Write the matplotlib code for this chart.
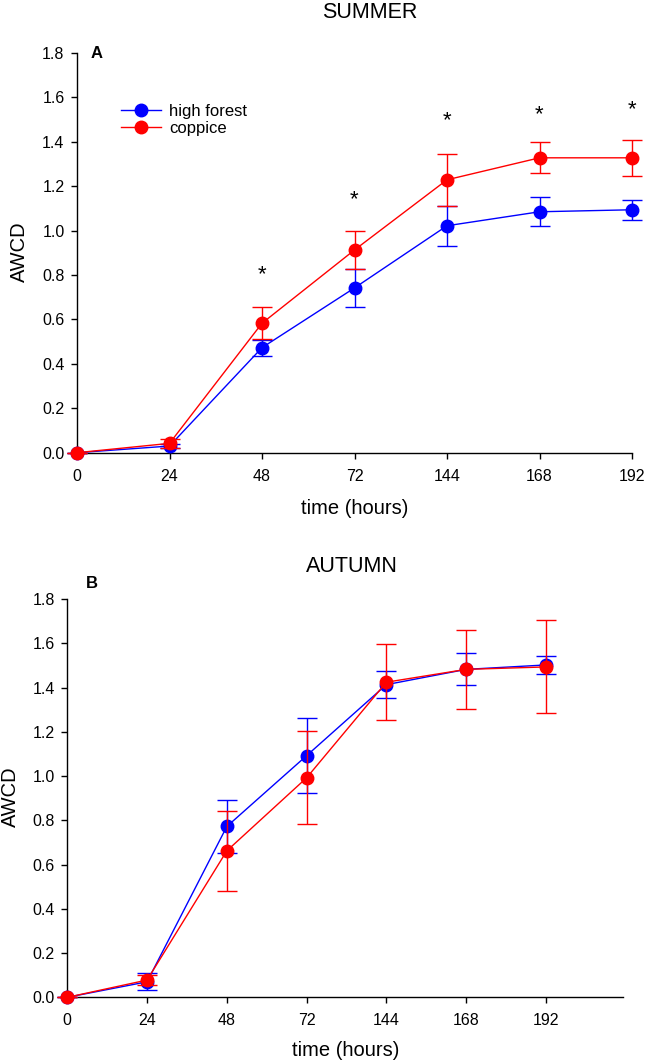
import matplotlib
matplotlib.use("Agg")
import matplotlib.pyplot as plt
from matplotlib.lines import Line2D

plt.rcParams['font.family'] = ['Liberation Sans', 'DejaVu Sans']

# x categories (hours), plotted at equal spacing
hours = ['0', '24', '48', '72', '144', '168', '192']

# SUMMER (panel A)
summer_hf = [0.0, 0.03, 0.473, 0.742, 1.022, 1.085, 1.094]
summer_hf_err = [0.0, 0.01, 0.036, 0.085, 0.09, 0.065, 0.045]
summer_cp = [0.0, 0.042, 0.583, 0.913, 1.229, 1.328, 1.328]
summer_cp_err = [0.0, 0.02, 0.073, 0.086, 0.116, 0.069, 0.08]
summer_star = [None, None, 0.80, 1.14, 1.495, 1.52, 1.545]

# AUTUMN (panel B)
autumn_hf = [0.0, 0.07, 0.772, 1.092, 1.413, 1.482, 1.502]
autumn_hf_err = [0.0, 0.038, 0.119, 0.17, 0.06, 0.072, 0.042]
autumn_cp = [0.0, 0.078, 0.662, 0.992, 1.424, 1.482, 1.493]
autumn_cp_err = [0.0, 0.022, 0.18, 0.21, 0.172, 0.18, 0.21]

BLUE = '#0000ff'
RED = '#ff0000'
MS = 9


def draw_panel(ax, hf, hf_err, cp, cp_err, xmax):
    x = list(range(len(hours)))
    ax.errorbar(x, hf, yerr=hf_err, color=BLUE, marker='o', markersize=MS,
                lw=1, elinewidth=1, capsize=7.5, capthick=1,
                clip_on=False, zorder=3)
    ax.errorbar(x, cp, yerr=cp_err, color=RED, marker='o', markersize=MS,
                lw=1, elinewidth=1, capsize=7.5, capthick=1,
                clip_on=False, zorder=4)
    ax.set_xlim(0, xmax)
    ax.set_ylim(0, 1.8)
    ax.set_xticks(x)
    ax.set_xticklabels(hours)
    ax.set_yticks([i * 0.2 for i in range(10)])
    ax.set_yticklabels([f'{i * 0.2:.1f}' for i in range(10)])
    for s in ['top', 'right']:
        ax.spines[s].set_visible(False)
    for s in ['left', 'bottom']:
        ax.spines[s].set_linewidth(1.0)
    ax.tick_params(axis='both', direction='out', length=4, width=1, labelsize=11.5)
    ax.tick_params(axis='x', pad=7.5)
    ax.tick_params(axis='y', pad=5)


fig = plt.figure(figsize=(6.45, 10.64), dpi=100)

ax1 = fig.add_axes([77 / 645, 1 - 452.7 / 1064, 555 / 645, 399.7 / 1064])
draw_panel(ax1, summer_hf, summer_hf_err, summer_cp, summer_cp_err, 6)
for i, v in enumerate(summer_star):
    if v is not None:
        ax1.text(i, v, '*', ha='center', va='center', fontsize=16)
handles = [Line2D([], [], color=BLUE, marker='o', markersize=MS, lw=1),
           Line2D([], [], color=RED, marker='o', markersize=MS, lw=1)]
ax1.legend(handles, ['high forest', 'coppice'], loc='upper left',
           bbox_to_anchor=(0.08, 0.872), frameon=False,
           fontsize=12, handlelength=2.4, handletextpad=0.45, labelspacing=0.1,
           borderpad=0, borderaxespad=0)
ax1.text(0.036, 1.0, 'A', transform=ax1.transAxes, fontsize=12,
         fontweight='bold', ha='center', va='center')

ax2 = fig.add_axes([67.3 / 645, 1 - 997.3 / 1064, 556 / 645, 398.3 / 1064])
draw_panel(ax2, autumn_hf, autumn_hf_err, autumn_cp, autumn_cp_err, 6.97)
ax2.text(0.044, 1.04, 'B', transform=ax2.transAxes, fontsize=12,
         fontweight='bold', ha='center', va='center')

fig.text(370 / 645, 1 - 12 / 1064, 'SUMMER', ha='center', va='center', fontsize=15.5)
fig.text(355 / 645, 1 - 509 / 1064, 'time (hours)', ha='center', va='center', fontsize=14.5)
fig.text(19 / 645, 1 - 252 / 1064, 'AWCD', ha='center', va='center', rotation=90, fontsize=14.5)

fig.text(352 / 645, 1 - 567 / 1064, 'AUTUMN', ha='center', va='center', fontsize=15.5)
fig.text(346 / 645, 1 - 1050 / 1064, 'time (hours)', ha='center', va='center', fontsize=14.5)
fig.text(10 / 645, 1 - 797 / 1064, 'AWCD', ha='center', va='center', rotation=90, fontsize=14.5)

fig.savefig('out.png', dpi=100)
